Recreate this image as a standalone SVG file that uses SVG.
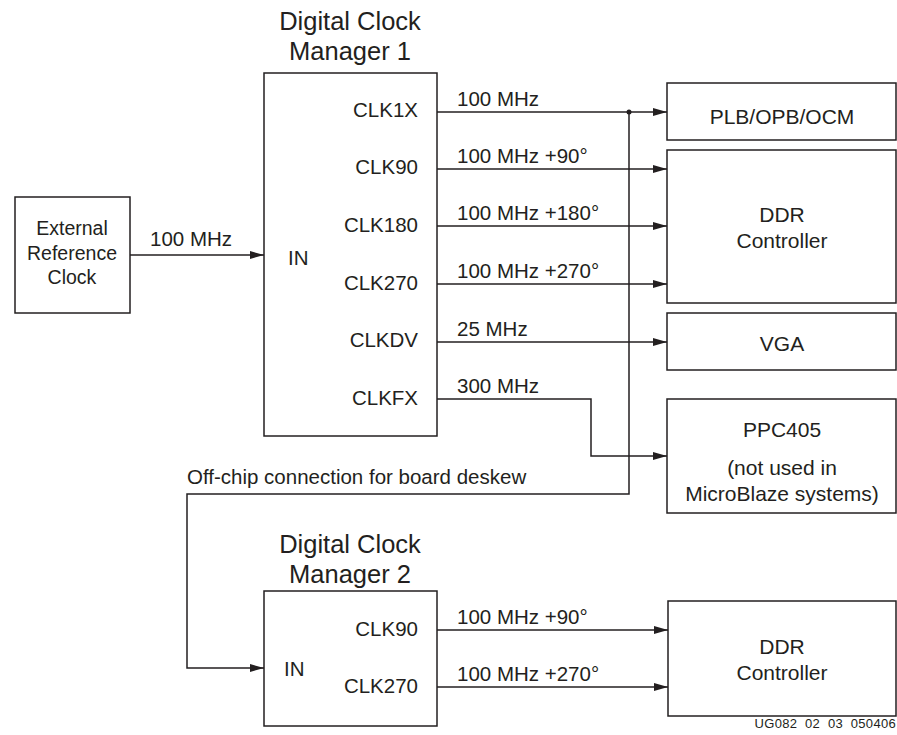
<svg xmlns="http://www.w3.org/2000/svg" width="897" height="735" viewBox="0 0 897 735">
<defs>
<style>
.box{fill:#fff;stroke:#231f20;stroke-width:1.5}
.ln{fill:none;stroke:#231f20;stroke-width:1.5}
text{font-family:"Liberation Sans",Arial,sans-serif;fill:#231f20}
.t{font-size:25.5px;text-anchor:middle}
.l{font-size:20.5px}
.r{font-size:20.5px;text-anchor:end}
.c{font-size:21px;text-anchor:middle}
.s{font-size:19.5px;text-anchor:middle}
</style>
<marker id="ah" markerWidth="14" markerHeight="8" refX="14" refY="4" orient="auto" markerUnits="userSpaceOnUse">
<path d="M0,0 L14,4 L0,8 z" fill="#231f20"/>
</marker>
</defs>
<rect width="897" height="735" fill="#fff"/>
<g id="ext">
<rect class="box" x="15" y="197" width="115" height="116"/>
<text class="s" x="72" y="235">External</text>
<text class="s" x="72" y="260">Reference</text>
<text class="s" x="72" y="284">Clock</text>
</g>
<g id="dcm1">
<text class="t" x="350" y="30">Digital Clock</text>
<text class="t" x="350" y="60">Manager 1</text>
<rect class="box" x="264" y="73" width="173" height="363"/>
<text class="l" x="288" y="265">IN</text>
<text class="r" x="418" y="117">CLK1X</text>
<text class="r" x="418" y="174">CLK90</text>
<text class="r" x="418" y="232">CLK180</text>
<text class="r" x="418" y="290">CLK270</text>
<text class="r" x="418" y="347">CLKDV</text>
<text class="r" x="418" y="405">CLKFX</text>
</g>
<g id="dcm2">
<text class="t" x="350" y="553">Digital Clock</text>
<text class="t" x="350" y="583">Manager 2</text>
<rect class="box" x="264" y="591" width="173" height="135"/>
<text class="l" x="284" y="676">IN</text>
<text class="r" x="418" y="636">CLK90</text>
<text class="r" x="418" y="693">CLK270</text>
</g>
<g id="plb">
<rect class="box" x="667" y="83" width="229" height="57"/>
<text class="c" x="782" y="124">PLB/OPB/OCM</text>
</g>
<g id="ddr1">
<rect class="box" x="667" y="150" width="229" height="153"/>
<text class="c" x="782" y="222">DDR</text>
<text class="c" x="782" y="248">Controller</text>
</g>
<g id="vga">
<rect class="box" x="667" y="313" width="229" height="57"/>
<text class="c" x="782" y="351">VGA</text>
</g>
<g id="ppc">
<rect class="box" x="667" y="399" width="229" height="114"/>
<text class="c" x="782" y="437">PPC405</text>
<text class="c" x="782" y="475">(not used in</text>
<text class="c" x="782" y="501">MicroBlaze systems)</text>
</g>
<g id="ddr2">
<rect class="box" x="668" y="601" width="228" height="115"/>
<text class="c" x="782" y="654">DDR</text>
<text class="c" x="782" y="680">Controller</text>
</g>
<g id="connectors">
<path class="ln" d="M130,255 H264" marker-end="url(#ah)"/>
<path class="ln" d="M437,112 H667" marker-end="url(#ah)"/>
<path class="ln" d="M437,169 H667" marker-end="url(#ah)"/>
<path class="ln" d="M437,226 H667" marker-end="url(#ah)"/>
<path class="ln" d="M437,284 H667" marker-end="url(#ah)"/>
<path class="ln" d="M437,342 H667" marker-end="url(#ah)"/>
<path class="ln" d="M437,399 H591 V456 H667" marker-end="url(#ah)"/>
<path class="ln" d="M629,112 V494 H187 V668 H264" marker-end="url(#ah)"/>
<circle cx="629" cy="112" r="2.5" fill="#231f20"/>
<path class="ln" d="M437,630 H668" marker-end="url(#ah)"/>
<path class="ln" d="M437,687 H668" marker-end="url(#ah)"/>
<text class="l" x="150" y="246">100 MHz</text>
<text class="l" x="457" y="106">100 MHz</text>
<text class="l" x="457" y="163">100 MHz +90°</text>
<text class="l" x="457" y="220">100 MHz +180°</text>
<text class="l" x="457" y="278">100 MHz +270°</text>
<text class="l" x="457" y="336">25 MHz</text>
<text class="l" x="457" y="393">300 MHz</text>
<text class="l" x="187" y="484">Off-chip connection for board deskew</text>
<text class="l" x="457" y="624">100 MHz +90°</text>
<text class="l" x="457" y="681">100 MHz +270°</text>
</g>
<text x="896" y="728" text-anchor="end" style="font-size:13px;letter-spacing:0.3px">UG082&#160;&#160;02&#160;&#160;03&#160;&#160;050406</text>
</svg>
